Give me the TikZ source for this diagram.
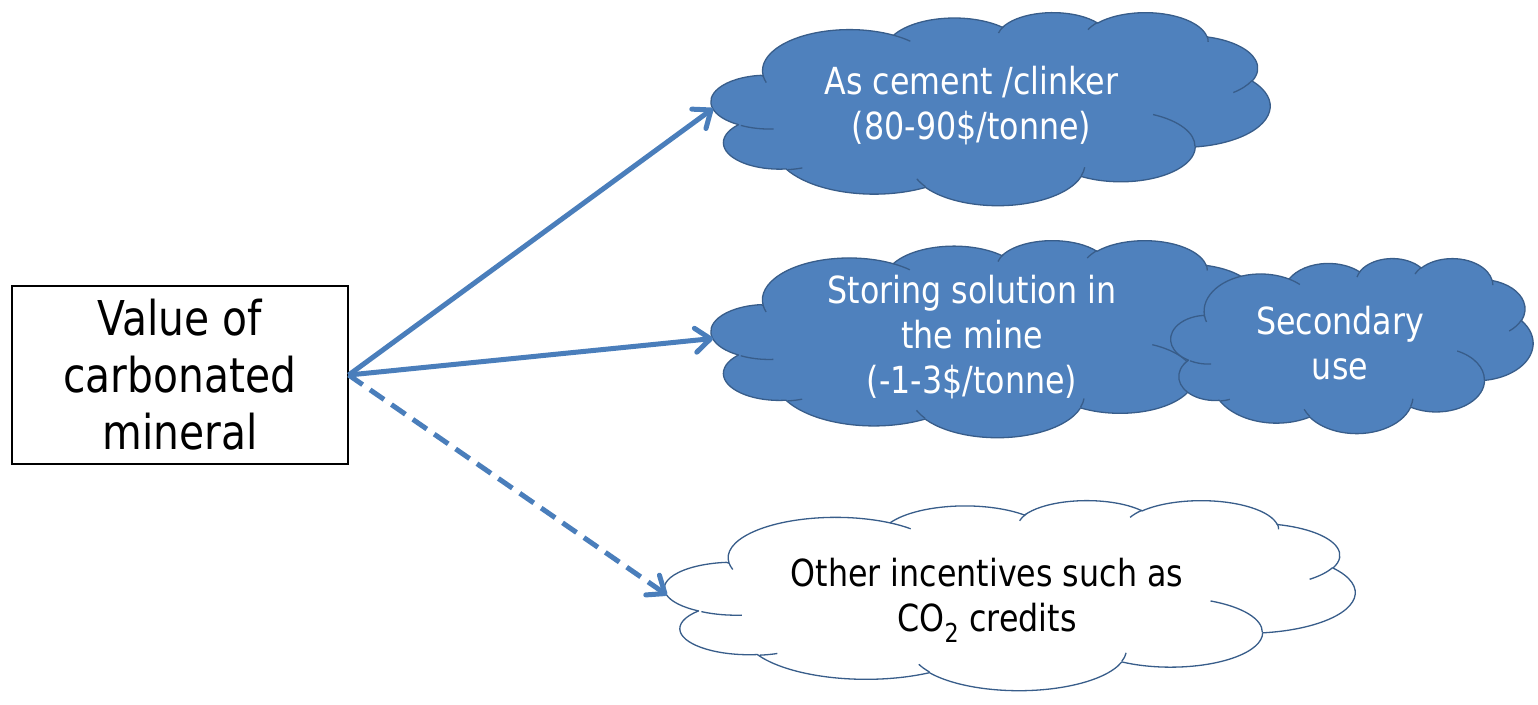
\documentclass[tikz,border=0pt]{standalone}
\usepackage{fontspec}
\setmainfont{DejaVu Sans}[FakeStretch=0.85]
\usetikzlibrary{arrows.meta}
\definecolor{accent}{HTML}{4F81BD}
\definecolor{accentdk}{HTML}{385D8A}
\definecolor{arrowblue}{HTML}{4A7EBB}

% convert an OOXML arcTo (geometric angles) to TikZ parametric angles
\newcommand\ooarcdef[5]{%
  \pgfmathsetmacro\ooS{atan2((#2)*sin(#4),(#3)*cos(#4))}%
  \pgfmathsetmacro\ooE{atan2((#2)*sin((#4)+(#5)),(#3)*cos((#4)+(#5)))}%
  \pgfmathsetmacro\ooD{(\ooE)-(\ooS)}%
  \pgfmathsetmacro\ooD{(\ooD)+360*round(((#5)-(\ooD))/360)}%
  \expandafter\global\expandafter\let\csname oo#1S\endcsname\ooS
  \expandafter\global\expandafter\let\csname oo#1D\endcsname\ooD
}
\ooarcdef{A}{6.753}{9.190}{-190.487483}{123.780533}
\ooarcdef{B}{5.333}{7.267}{-144.102383}{89.945233}
\ooarcdef{C}{4.365}{5.945}{-145.807917}{99.723017}
\ooarcdef{D}{4.857}{6.595}{-130.986067}{117.241733}
\ooarcdef{E}{5.333}{7.273}{-78.708883}{109.026917}
\ooarcdef{F}{6.775}{9.220}{-46.26725}{130.269}
\ooarcdef{G}{5.785}{7.867}{0.625017}{114.033333}
\ooarcdef{H}{6.752}{9.215}{22.4516}{115.17255}
\ooarcdef{I}{7.720}{10.543}{66.242633}{78.048933}
\ooarcdef{J}{4.360}{5.918}{-274.942083}{146.735567}
\ooarcdef{K}{4.345}{5.945}{-246.8285}{152.51885}
\ooarcdef{a}{4.345}{5.945}{86.742}{26.4295}
\ooarcdef{b}{4.360}{5.918}{73.610467}{11.447467}
\ooarcdef{c}{6.752}{9.215}{137.62415}{14.0811}
\ooarcdef{d}{6.752}{9.215}{6.453267}{15.99835}
\ooarcdef{e}{5.785}{7.867}{-70.29235}{70.917367}
\ooarcdef{f}{5.333}{7.273}{30.318033}{27.7515}
\ooarcdef{g}{4.857}{6.595}{-13.744333}{14.8589}
\ooarcdef{h}{4.857}{6.595}{-149.18145}{18.195367}
\ooarcdef{i}{4.365}{5.945}{-163.494267}{19.003017}
\ooarcdef{j}{6.753}{9.190}{-66.70695}{12.31935}
\ooarcdef{k}{6.753}{9.190}{157.65435}{11.858167}

% #1 x0, #2 y0 (top-left, px), #3 W, #4 H, #5 fill, #6 stroke
\newcommand\ppcloud[6]{%
  \pgfmathsetmacro\cwx{#3/43.2}\pgfmathsetmacro\chy{#4/43.2}%
  \begin{scope}[shift={(#1,#2)},x=\cwx pt,y=\chy pt,yscale=-1]
    \filldraw[fill=#5,draw=#6,line width=1.3pt,line join=round]
      (3.9,14.37)
      arc[x radius=6.753,y radius=9.190,start angle=\ooAS,delta angle=\ooAD]
      arc[x radius=5.333,y radius=7.267,start angle=\ooBS,delta angle=\ooBD]
      arc[x radius=4.365,y radius=5.945,start angle=\ooCS,delta angle=\ooCD]
      arc[x radius=4.857,y radius=6.595,start angle=\ooDS,delta angle=\ooDD]
      arc[x radius=5.333,y radius=7.273,start angle=\ooES,delta angle=\ooED]
      arc[x radius=6.775,y radius=9.220,start angle=\ooFS,delta angle=\ooFD]
      arc[x radius=5.785,y radius=7.867,start angle=\ooGS,delta angle=\ooGD]
      arc[x radius=6.752,y radius=9.215,start angle=\ooHS,delta angle=\ooHD]
      arc[x radius=7.720,y radius=10.543,start angle=\ooIS,delta angle=\ooID]
      arc[x radius=4.360,y radius=5.918,start angle=\ooJS,delta angle=\ooJD]
      arc[x radius=4.345,y radius=5.945,start angle=\ooKS,delta angle=\ooKD]
      -- cycle;
    \draw[draw=#6,line width=1.3pt]
      (4.693,26.177) arc[x radius=4.345,y radius=5.945,start angle=\ooaS,delta angle=\ooaD]
      (6.928,34.899) arc[x radius=4.360,y radius=5.918,start angle=\oobS,delta angle=\oobD]
      (16.478,39.090) arc[x radius=6.752,y radius=9.215,start angle=\oocS,delta angle=\oocD]
      (28.827,34.751) arc[x radius=6.752,y radius=9.215,start angle=\oodS,delta angle=\oodD]
      (34.129,22.954) arc[x radius=5.785,y radius=7.867,start angle=\ooeS,delta angle=\ooeD]
      (41.798,15.354) arc[x radius=5.333,y radius=7.273,start angle=\oofS,delta angle=\oofD]
      (38.324,5.426) arc[x radius=4.857,y radius=6.595,start angle=\oogS,delta angle=\oogD]
      (29.078,3.952) arc[x radius=4.857,y radius=6.595,start angle=\oohS,delta angle=\oohD]
      (22.141,4.720) arc[x radius=4.365,y radius=5.945,start angle=\ooiS,delta angle=\ooiD]
      (14.000,5.192) arc[x radius=6.753,y radius=9.190,start angle=\oojS,delta angle=\oojD]
      (4.127,15.789) arc[x radius=6.753,y radius=9.190,start angle=\ookS,delta angle=\ookD];
  \end{scope}}

\tikzset{
  cloudbox/.style={inner sep=0pt,outer sep=0pt},
  cloudtxt/.style={inner sep=0pt,align=center,font=\fontsize{37.3}{45}\selectfont},
  titlebox/.style={draw=black,line width=1.3pt,inner sep=0pt,align=center,
    minimum width=336pt,minimum height=178pt,font=\fontsize{48}{57}\selectfont},
  conn/.style={draw=arrowblue,line width=5pt,
    -{Straight Barb[length=15pt,width=24pt,round]}},
  dashconn/.style={conn,dash pattern=on 17pt off 9pt}
}

\begin{document}
\begin{tikzpicture}[x=1pt,y=-1pt]
\useasboundingbox (0,0) rectangle (1538,704);

% title box
\node[titlebox] (title) at (180,375) {Value of\\carbonated\\mineral};

% cloud 1
\ppcloud{713}{12}{557}{193}{accent}{accentdk}
\node[cloudbox,minimum width=557pt,minimum height=193pt] (c1) at (991.5,108.5) {};
\node[cloudtxt,text=white] (t1) at (971.5,106) {As cement /clinker\\(80-90\$/tonne)};

% cloud 2
\ppcloud{713}{240}{556}{197}{accent}{accentdk}
\node[cloudbox,minimum width=556pt,minimum height=197pt] (c2) at (991,338.5) {};
\node[cloudtxt,text=white] (t2) at (972,337) {Storing solution in\\the mine\\(-1-3\$/tonne)};

% secondary cloud
\ppcloud{1172}{258}{361}{175}{accent}{accentdk}
\node[cloudbox,minimum width=361pt,minimum height=175pt] (c4) at (1352.5,345.5) {};
\node[cloudtxt,text=white] (t4) at (1340,343) {Secondary\\use};

% cloud 3
\ppcloud{667}{500}{688}{190}{white}{accentdk}
\node[cloudbox,minimum width=688pt,minimum height=190pt] (c3) at (1011,595) {};
\node[cloudtxt,text=black] (t3) at (987,600) {Other incentives such as\\CO\textsubscript{2} credits};

% connectors
\draw[conn] (title.east) -- (c1.west);
\draw[conn] (title.east) -- (c2.west);
\draw[dashconn] (title.east) -- (c3.west);
\end{tikzpicture}
\end{document}
